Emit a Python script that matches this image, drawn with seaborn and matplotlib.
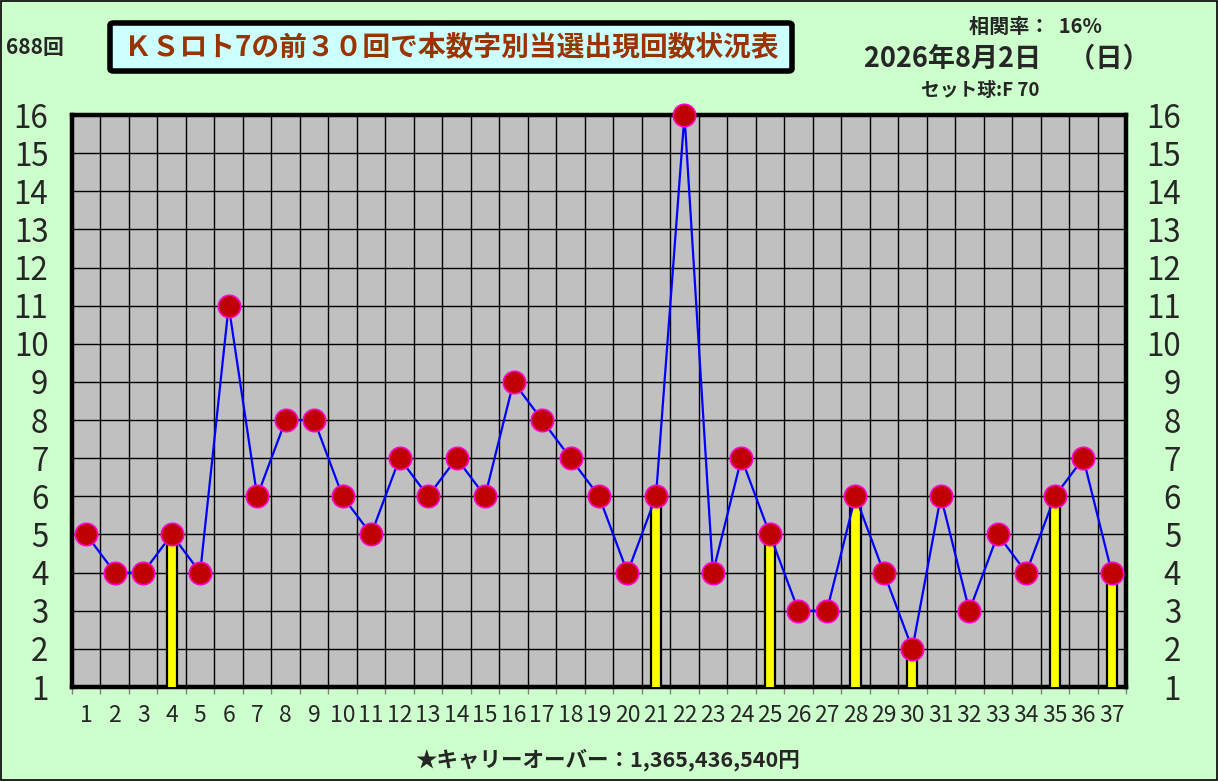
import matplotlib
matplotlib.use("Agg")
import matplotlib.pyplot as plt
import seaborn as sns
import numpy as np
import pandas as pd
from matplotlib.patches import Rectangle, FancyBboxPatch
from matplotlib.ticker import FixedLocator
from matplotlib.transforms import ScaledTranslation

# ---- data ----
numbers = list(range(1, 38))
counts = [5, 4, 4, 5, 4, 11, 6, 8, 8, 6, 5, 7, 6, 7, 6, 9, 8, 7, 6, 4,
          6, 16, 4, 7, 5, 3, 3, 6, 4, 2, 6, 3, 5, 4, 6, 7, 4]
latest_draw = [4, 21, 25, 28, 30, 35, 37]
y_ticks = list(range(1, 17))

draw_no = "688回"
title = "ＫＳロト7の前３０回で本数字別当選出現回数状況表"
corr_text = "相関率：  16%"
date_text = "2026年8月2日　（日）"
set_ball = "セット球:F 70"
carry = "★キャリーオーバー：1,365,436,540円"

df = pd.DataFrame({"num": [str(n) for n in numbers], "count": counts})
df["pos"] = np.arange(len(df))
df["bar"] = [c if n in latest_draw else 0 for n, c in zip(numbers, counts)]

sns.set_theme(style="white")
FAM = ["Liberation Sans Narrow", "Noto Sans CJK JP", "DejaVu Sans"]
plt.rcParams["font.family"] = FAM

W, H = 1218, 781
fig = plt.figure(figsize=(W / 100, H / 100), dpi=100)
fig.patch.set_facecolor("#CCFFCC")
ax = fig.add_axes([72 / W, 1 - 687 / H, (1126 - 72) / W, (687 - 115) / H])
ax.set_facecolor("#C0C0C0")

sns.barplot(data=df, x="num", y="bar", color="#FFFF00", saturation=1,
            width=0.36, edgecolor="black", linewidth=1.6, ax=ax, zorder=3)
sns.lineplot(data=df, x="pos", y="count", color="#0000FF", linewidth=1.6,
             ax=ax, zorder=4)
sns.scatterplot(data=df, x="pos", y="count", color="#C00000", s=260,
                edgecolor="#FF00CC", linewidth=1.2, ax=ax, zorder=5)
for coll in ax.collections:
    coll.set_clip_on(False)

ax.set_xlim(-0.5, len(numbers) - 0.5)
ax.set_ylim(1, 16)
ax.set_xlabel("")
ax.set_ylabel("")

ax.set_xticks(df["pos"])
ax.set_xticklabels(df["num"], fontsize=16.5)
ax.xaxis.set_minor_locator(FixedLocator(np.arange(-0.5, len(numbers), 1.0)))
ax.tick_params(axis="x", which="major", length=0, pad=12)
ax.tick_params(axis="x", which="minor", length=5, width=1, color="#808080",
               direction="out", bottom=True)
ax.grid(False)
ax.grid(True, axis="x", which="minor", color="black", linewidth=1.0, zorder=1)

ax.set_yticks(y_ticks)
ax.set_yticklabels([str(v) for v in y_ticks], fontsize=22.5)
ax.grid(True, axis="y", which="major", color="black", linewidth=1.0, zorder=1)
ax.tick_params(axis="y", which="major", length=0, pad=17,
               labelleft=True, labelright=True)
for t in ax.yaxis.get_major_ticks():
    t.label2.set_horizontalalignment("right")
    t.label2.set_fontsize(22.5)
ax.set_axisbelow(True)

for s in ax.spines.values():
    s.set_visible(True)
    s.set_color("black")
    s.set_linewidth(3.2)

fig.canvas.draw()
# right-align the right-hand tick labels at ~1181px
off = ScaledTranslation(55 / 100 - 17 / 72, 0, fig.dpi_scale_trans)
for t in ax.yaxis.get_major_ticks():
    t.label2.set_transform(t.label2.get_transform() + off)

# outer border
fig.patches.append(Rectangle((0.0008, 0.0012), 0.9984, 0.9976, transform=fig.transFigure,
                             fill=False, edgecolor="black", linewidth=1.2))

# title box
fig.patches.append(FancyBboxPatch((110 / W, 1 - 71 / H), 682 / W, 48 / H,
                                  boxstyle="round,pad=0,rounding_size=0.003",
                                  transform=fig.transFigure, facecolor="#CCFFFF",
                                  edgecolor="black", linewidth=4.0))
fig.text(451 / W, 1 - 47 / H, title, ha="center", va="center", fontsize=20,
         color="#993300", fontweight="bold", family=FAM)
fig.text(35 / W, 1 - 48 / H, draw_no, ha="center", va="center", fontsize=15,
         fontweight="bold", family=FAM)
fig.text(1035 / W, 1 - 26 / H, corr_text, ha="center", va="center", fontsize=14.5,
         fontweight="bold", family=FAM)
fig.text(1007 / W, 1 - 58 / H, date_text, ha="center", va="center", fontsize=19.5,
         fontweight="bold", family=FAM)
fig.text(980 / W, 1 - 91 / H, set_ball, ha="center", va="center", fontsize=13.5,
         fontweight="bold", family=FAM)
fig.text(608 / W, 1 - 760 / H, carry, ha="center", va="center", fontsize=15.5,
         fontweight="bold", family=FAM)

fig.savefig("out.png", dpi=100, facecolor=fig.get_facecolor())
